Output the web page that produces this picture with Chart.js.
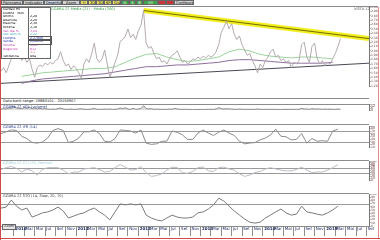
<!DOCTYPE html>
<html lang="pt-BR">
<head>
<meta charset="UTF-8">
<title>GGBR4 - Gráfico</title>
<script src="https://cdn.jsdelivr.net/npm/chart.js"></script>
<style>
  body { margin:0; width:380px; height:240px; background:#fff; position:relative; overflow:hidden; font-family:"DejaVu Sans", sans-serif; }
  .pane { position:absolute; left:1px; width:377px; }
  .sep { position:absolute; left:1px; width:368px; height:0; border-top:1px solid #8c8c8c; }
  .lbl { position:absolute; left:3px; font-size:3.6px; line-height:4px; white-space:nowrap; color:#333; }
  #toolbar { position:absolute; left:1px; top:0; width:377px; height:6px; border-bottom:1px solid #8c8c8c; display:flex; }
  #toolbar span { flex:none; font-size:3.6px; line-height:5px; height:5px; padding:0 1px; border:0.5px solid #666; background:#d2d2d2; color:#111; box-sizing:border-box; text-align:center; overflow:hidden; }
  #toolbar .y { background:#e9e36a; }
  #toolbar .g { background:#3fa64a; color:#fff; }
  #toolbar .r { background:#c8343a; color:#fff; }
  #info { position:absolute; left:1px; top:7px; width:50px; border-collapse:collapse; border:0.5px solid #666; background:#fff; font-size:3.2px; }
  #info td { height:3.6px; line-height:3.6px; padding:0 1px; white-space:nowrap; overflow:hidden; }
  #info td:first-child { border-right:0.5px solid #666; width:24px; }
  #info .mg td { color:#c03aa8; }
  #info .cy td { color:#2aa6b0; }
  #info .bl td { color:#1c2fa8; }
  #info .bx { outline:0.5px solid #555; }
  #info .pk td { color:#d2556a; }
  .edge { position:absolute; background:#d24848; }
</style>
</head>
<body>
<div id="toolbar">
  <span style="width:22px">Panorama</span>
  <span style="width:21px">Indicador</span>
  <span style="width:18px;background:#c9d3e6">Desenho</span>
  <span style="width:18px">Zoom</span>
  <span class="y" style="width:8px">YI</span>
  <span class="y" style="width:8px">3D</span>
  <span class="y" style="width:8px">3D</span>
  <span class="y" style="width:8px">6P</span>
  <span class="y" style="width:9px">Q/4</span>
  <span class="g" style="width:8px">IL</span>
  <span class="g" style="width:7px">$</span>
  <span class="g" style="width:7px">8</span>
  <span class="g" style="width:15px">||||</span>
  <span class="r" style="width:8px"></span>
  <span class="r" style="width:8px"></span>
  <span style="width:20px">Configurar</span>
</div>

<div class="pane" style="top:7px;height:91px"><canvas id="priceChart"></canvas></div>
<div class="sep" style="top:98px"></div>
<div class="lbl" style="top:99px;color:#111">Data bank range: 19860101 - 20150907</div>
<div class="sep" style="top:104px"></div>
<div class="pane" style="top:104px;height:18px"><canvas id="volChart"></canvas></div>
<div class="lbl" style="top:105px;color:#223a8a">GGBR4 22 VOL (volume)</div>
<div class="sep" style="top:124px"></div>
<div class="pane" style="top:126px;height:33px"><canvas id="rsiChart"></canvas></div>
<div class="lbl" style="top:125px;color:#223a8a">GGBR4 22 IFR (14)</div>
<div class="sep" style="top:160px"></div>
<div class="pane" style="top:161px;height:31px"><canvas id="cciChart"></canvas></div>
<div class="lbl" style="top:161px;color:#9fd0d8">GGBR4 22 CCI (20, Normal)</div>
<div class="sep" style="top:193px"></div>
<div class="pane" style="top:194px;height:44px"><canvas id="stoChart"></canvas></div>
<div class="lbl" style="top:194px;color:#444">GGBR4 22 STO (14, Slow, 20, 70)</div>
<div class="lbl" style="top:224px;left:2px;border:0.5px solid #666;background:#e6e6e6;padding:0 1px;line-height:3.5px">Zoom</div>

<div class="lbl" style="top:7px;left:51px;color:#3aa048">GGBR4 22 Média (21) · Média (200)</div>
<div class="lbl" style="top:7px;left:354px;color:#555">VISTA 12</div>

<table id="info">
  <tr><td>Gerdau PN</td><td></td></tr>
  <tr><td>GGBR4 · BOV</td><td></td></tr>
  <tr><td>Último</td><td>2,28</td></tr>
  <tr><td>Abertura</td><td>2,20</td></tr>
  <tr><td>Máxima</td><td>2,30</td></tr>
  <tr><td>Mínima</td><td>2,18</td></tr>
  <tr class="mg"><td>Var. dia %</td><td>3,64</td></tr>
  <tr class="cy"><td>Var. sem %</td><td>5,12</td></tr>
  <tr class="bl"><td>Compra</td><td class="bx">2,27800</td></tr>
  <tr class="bl"><td>Venda</td><td class="bx">2,28000</td></tr>
  <tr class="mg"><td>Volume</td><td>1,2M</td></tr>
  <tr class="mg"><td>Negócios</td><td>812</td></tr>
  <tr class="pk"><td></td><td>3,1</td></tr>
  <tr><td>Tendência</td><td>Alta</td></tr>
</table>

<div class="edge" style="left:0;top:0;width:1px;height:240px"></div>
<div class="edge" style="left:378px;top:7px;width:1px;height:232px;background:#e08a8a"></div>
<div class="edge" style="left:0;top:238px;width:380px;height:1px"></div>

<script>
// months from Nov 2009 on the x axis; price/volume every half month, indicators monthly
const tickPos = [2.5, 4.5, 6.5, 8.5, 10.5, 12.5, 14.5, 16.5, 18.5, 20.5, 22.5, 24.5,
  26.5, 28.5, 30.5, 32.5, 34.5, 36.5, 38.5, 40.5, 42.5, 44.5, 46.5, 48.5,
  50.5, 52.5, 54.5, 56.5, 58.5, 60.5, 62.5, 64.5, 66.5, 68.5, 70.5];
const tickText = ['2010', 'Mar', 'Mai', 'Jul', 'Set', 'Nov', '2011', 'Mar', 'Mai', 'Jul', 'Set', 'Nov',
  '2012', 'Mar', 'Mai', 'Jul', 'Set', 'Nov', '2013', 'Mar', 'Mai', 'Jul', 'Set', 'Nov',
  '2014', 'Mar', 'Mai', 'Jul', 'Set', 'Nov', '2015', 'Mar', 'Mai', 'Jul', 'Set'];

const price = [1.54,1.62,1.50,1.66,1.82,2.04,1.82,1.90,1.78,1.86,
  1.74,1.82,1.58,1.40,1.62,1.68,1.64,1.72,1.68,1.74,
  1.70,1.78,1.82,1.98,1.78,1.66,1.70,1.58,1.66,1.60,
  1.50,1.38,1.70,1.82,1.74,1.94,2.18,1.82,1.74,1.82,
  2.02,1.70,1.40,1.54,1.74,1.90,2.22,2.26,2.34,2.50,
  2.30,2.38,2.26,2.46,2.58,2.92,2.18,2.06,2.10,1.94,
  1.82,1.86,1.74,1.78,1.70,1.82,1.90,1.94,2.00,1.86,
  1.74,1.78,1.70,1.74,1.82,1.80,1.86,1.82,1.88,1.84,
  1.90,1.86,1.90,1.98,2.14,2.42,2.54,2.68,2.50,2.62,
  2.38,2.26,2.34,2.14,2.02,1.90,1.94,1.78,1.66,1.50,
  1.70,1.62,1.78,1.86,1.98,2.04,1.86,1.90,1.78,1.82,
  1.74,1.78,1.62,1.74,1.70,1.78,2.14,2.20,1.86,1.74,
  2.10,2.18,1.82,1.70,1.78,1.66,1.74,1.70,1.82,1.94,
  2.10,2.28];

// moving averages, one value every two months
const maShort = [null,null,1.42,1.46,1.50,1.52,1.54,1.56,1.58,1.60,1.60,1.64,1.74,1.84,1.92,1.94,
  1.86,1.80,1.76,1.78,1.82,1.86,1.98,2.04,2.00,1.92,1.88,1.86,1.84,1.86,1.86,1.84,1.82];
const maLong = [null,null,1.26,1.32,1.36,1.38,1.40,1.42,1.44,1.46,1.48,1.52,1.56,1.60,1.64,1.64,
  1.66,1.68,1.68,1.70,1.72,1.74,1.78,1.80,1.80,1.78,1.76,1.74,1.72,1.72,1.72,1.72,1.74];

// drawn trend lines (month, price)
const resistX = [27.5, 71];
const resistY = [2.92, 2.28];
const supportX = [0, 71];
const supportY = [1.26, 1.72];

const volume = [3,4,3,6,5,12,6,5,4,7,
  5,8,4,6,3,5,3,4,3,2,
  3,2,4,6,3,2,2,3,2,2,
  3,4,2,2,2,3,5,2,2,2,
  3,2,3,2,2,3,6,4,7,3,
  2,5,2,3,4,13,5,3,4,2,
  3,2,2,2,2,3,2,5,3,2,
  2,2,2,2,1,2,1,2,1,2,
  2,2,2,3,7,4,3,4,3,3,
  2,2,3,2,2,2,2,2,2,3,
  2,2,2,2,2,2,2,2,1,2,
  2,2,2,2,2,2,5,3,3,2,
  4,3,3,3,2,3,2,3,2,2,
  3,2];

const rsi = [61,68,75,73,51,42,27,25,29,44,
  73,80,73,27,32,44,68,68,75,61,
  32,29,42,75,73,71,63,75,25,20,
  22,32,32,71,66,56,39,39,63,75,
  63,54,66,75,63,54,32,22,25,27,
  37,44,56,78,51,49,37,39,61,25,
  42,32,34,32,71,78];
const rsiLevels = [70, 30];

const cci = [55,65,71,61,42,58,48,26,55,65,
  65,65,52,32,42,42,58,61,65,55,
  42,45,65,81,68,52,55,71,39,19,
  23,32,52,68,65,39,35,45,65,68,
  48,45,65,68,58,52,32,19,26,39,
  45,58,65,58,52,48,48,55,68,52,
  39,42,42,52,65,81];
const cciLevels = [65, 35];

const sto = [56,59,81,62,50,56,28,34,41,44,
  50,59,47,25,31,37,41,50,56,44,
  34,19,44,69,66,69,66,69,34,25,
  19,16,25,34,28,25,25,28,41,44,
  53,66,87,78,62,47,34,22,12,9,
  12,25,34,44,53,41,34,37,62,44,
  41,37,34,41,50,62];
const stoLevels = [70];

// horizontal reference lines of the indicator panes
Chart.register({
  id: 'levelLines',
  beforeDatasetsDraw(chart, args, opts) {
    const { ctx, chartArea: a, scales } = chart;
    ctx.save();
    ctx.strokeStyle = '#9a9a9a';
    ctx.lineWidth = 1;
    (opts.values || []).forEach(v => {
      const py = Math.round(scales.y.getPixelForValue(v)) + 0.5;
      ctx.beginPath();
      ctx.moveTo(a.left, py);
      ctx.lineTo(a.right, py);
      ctx.stroke();
    });
    ctx.restore();
  }
});

const halfMonth = arr => arr.map((v, i) => ({ x: i * 0.5, y: v }));
const everyMonth = arr => arr.map((v, i) => ({ x: i, y: v }));
const everyTwo = arr => arr.map((v, i) => ({ x: i * 2, y: v }));
const pairs = (xs, ys) => xs.map((x, i) => ({ x: x, y: ys[i] }));

function paneOptions(min, max, step, fmt, levels, showX) {
  return {
    animation: false,
    responsive: true,
    maintainAspectRatio: false,
    layout: { padding: 0 },
    plugins: { legend: { display: false }, tooltip: { enabled: false }, levelLines: { values: levels } },
    elements: { point: { radius: 0 }, line: { borderWidth: 1, tension: 0 } },
    scales: {
      x: {
        type: 'linear', min: 0, max: 71, display: showX,
        afterBuildTicks: s => { s.ticks = tickPos.map(v => ({ value: v })); },
        afterFit: s => { s.height = 12; s.paddingLeft = 0; s.paddingRight = 0; },
        ticks: {
          autoSkip: false, maxRotation: 0, align: 'start', padding: -9,
          font: ctx => ({ size: 4, family: 'DejaVu Sans', weight: /^\d/.test(tickText[ctx.index]) ? 'bold' : 'normal' }),
          color: '#1c2a60',
          callback: (v, i) => ' ' + tickText[i]
        },
        grid: { drawOnChartArea: false, tickLength: 10, color: '#8c8c8c' },
        border: { color: '#8c8c8c' }
      },
      y: {
        position: 'right', min: min, max: max,
        afterFit: s => { s.width = 9; s.paddingTop = 0; s.paddingBottom = 0; },
        ticks: { stepSize: step, autoSkip: false, font: { size: 3, family: 'DejaVu Sans' }, color: '#6a3a3a', padding: 0.5, callback: fmt },
        grid: { drawOnChartArea: false, tickLength: 1.5, color: '#777' },
        border: { color: '#777' }
      }
    }
  };
}

const intFmt = v => String(v);

new Chart(document.getElementById('priceChart'), {
  type: 'line',
  data: {
    datasets: [
      { data: halfMonth(price), borderColor: '#b4aaad' },
      { data: everyTwo(maShort), borderColor: '#9bd39d' },
      { data: everyTwo(maLong), borderColor: '#8d6e9c' },
      { data: pairs(supportX, supportY), borderColor: '#4a4a55' },
      { data: pairs(resistX, resistY), borderColor: '#6e6a10' },
      { data: pairs(resistX, resistY), borderColor: '#f3ef1c', borderWidth: 5 }
    ]
  },
  options: paneOptions(1.2, 3.0, 0.1, v => v.toFixed(2).replace('.', ','), [], false)
});

new Chart(document.getElementById('volChart'), {
  type: 'line',
  data: { datasets: [{ data: halfMonth(volume), borderColor: '#8a8a8a', backgroundColor: '#dcdcdc', fill: 'origin' }] },
  options: paneOptions(0, 18, 6, intFmt, [], false)
});

new Chart(document.getElementById('rsiChart'), {
  type: 'line',
  data: { datasets: [{ data: everyMonth(rsi), borderColor: '#8e8a8a' }] },
  options: paneOptions(10, 90, 10, intFmt, rsiLevels, false)
});

new Chart(document.getElementById('cciChart'), {
  type: 'line',
  data: { datasets: [{ data: everyMonth(cci), borderColor: '#b9bcc4' }] },
  options: paneOptions(0, 100, 10, intFmt, cciLevels, false)
});

new Chart(document.getElementById('stoChart'), {
  type: 'line',
  data: { datasets: [{ data: everyMonth(sto), borderColor: '#7a7a7a' }] },
  options: paneOptions(0, 100, 10, intFmt, stoLevels, true)
});
</script>
</body>
</html>
